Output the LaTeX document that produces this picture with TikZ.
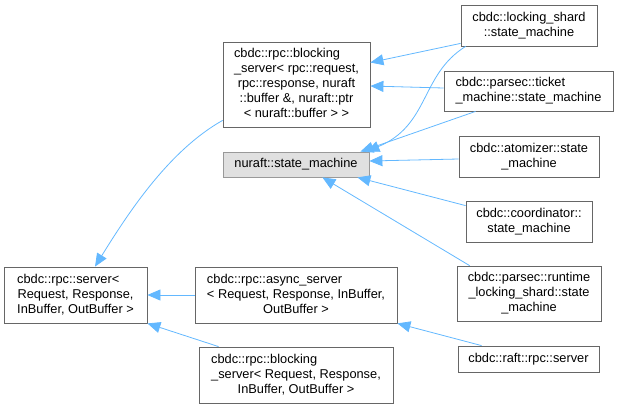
\documentclass[tikz,border=0pt]{standalone}
\usepackage{fontspec}
\setmainfont{Liberation Sans}
\usetikzlibrary{arrows.meta}
\definecolor{edgeblue}{HTML}{63B8FF}
\definecolor{boxline}{HTML}{666666}
\definecolor{grayfill}{HTML}{E0E0E0}
\definecolor{grayline}{HTML}{999999}
\newcommand\firstl[1]{\multicolumn{1}{@{}l@{}}{#1}}
\newcommand\lbl[1]{\begin{tabular}{@{}c@{}}#1\end{tabular}}
\begin{document}
\begin{tikzpicture}[x=1pt,y=-1pt,
  cls/.style={draw=boxline, line width=0.8pt, inner sep=0pt, fill=white,
    font=\fontsize{12.8}{15}\selectfont, align=center},
  cur/.style={cls, draw=grayline, fill=grayfill},
  inh/.style={draw=edgeblue, line width=0.8pt, -{Triangle[length=13pt,width=11pt]}}]
\useasboundingbox (0,0) rectangle (619,408);
\node[cls, minimum width=147pt, minimum height=85pt] (A) at (296.5,84.5)
  {\lbl{\firstl{cbdc::rpc::blocking}\\ \_server< rpc::request,\\ rpc::response, nuraft\\ ::buffer \&, nuraft::ptr\\ < nuraft::buffer > >}};
\node[cur, minimum width=146pt, minimum height=25pt] (N) at (296,164.5) {nuraft::state\_machine};
\node[cls, minimum width=136pt, minimum height=41pt] (LS) at (529,25.5)
  {\lbl{\firstl{cbdc::locking\_shard}\\ ::state\_machine}};
\node[cls, minimum width=169pt, minimum height=40pt] (TM) at (528.5,91)
  {\lbl{\firstl{cbdc::parsec::ticket}\\ \_machine::state\_machine}};
\node[cls, minimum width=140pt, minimum height=41pt] (AT) at (529,156.5)
  {\lbl{\firstl{cbdc::atomizer::state}\\ \_machine}};
\node[cls, minimum width=126pt, minimum height=41pt] (CO) at (529,221.5)
  {\lbl{\firstl{cbdc::coordinator::}\\ state\_machine}};
\node[cls, minimum width=144pt, minimum height=55pt] (RT) at (529,293.5)
  {\lbl{\firstl{cbdc::parsec::runtime}\\ \_locking\_shard::state\\ \_machine}};
\node[cls, minimum width=141pt, minimum height=26pt] (RF) at (528.5,359) {cbdc::raft::rpc::server};
\node[cls, minimum width=143pt, minimum height=56pt] (S) at (75.5,295)
  {\lbl{\firstl{cbdc::rpc::server<}\\ Request, Response,\\ InBuffer, OutBuffer >}};
\node[cls, minimum width=202pt, minimum height=56pt] (AS) at (296,295)
  {\lbl{\firstl{cbdc::rpc::async\_server}\\ < Request, Response, InBuffer,\\ OutBuffer >}};
\node[cls, minimum width=194pt, minimum height=56pt] (B2) at (296,375)
  {\lbl{\firstl{cbdc::rpc::blocking}\\ \_server< Request, Response,\\ InBuffer, OutBuffer >}};
% edges
\draw[inh] ([yshift=3pt]LS.south west) -- ([yshift=22pt]A.east);
\draw[inh] ([yshift=3pt]TM.west) -- ([yshift=-1.5pt]A.east);
\draw[inh] ([xshift=5pt]LS.south west) .. controls (420,75) and (430,125) .. ([xshift=-3pt]N.north east);
\draw[inh] ([xshift=32pt]TM.south west) -- ([xshift=-9pt]N.north east);
\draw[inh] ([yshift=-2.5pt]AT.west) -- ([yshift=3.5pt]N.east);
\draw[inh] ([yshift=-5pt]CO.north west) -- ([xshift=-12pt]N.south east);
\draw[inh] ([xshift=13pt]RT.north west) -- ([xshift=-47pt]N.south east);
\draw[inh] ([yshift=7pt]A.south west) .. controls (170,150) and (130,210) .. ([xshift=19.5pt]S.north);
\draw[inh] (AS.west) -- (S.east);
\draw[inh] ([xshift=20pt]B2.north west) -- (S.south east);
\draw[inh] ([xshift=24pt]RF.north west) -- (AS.south east);
\end{tikzpicture}
\end{document}
